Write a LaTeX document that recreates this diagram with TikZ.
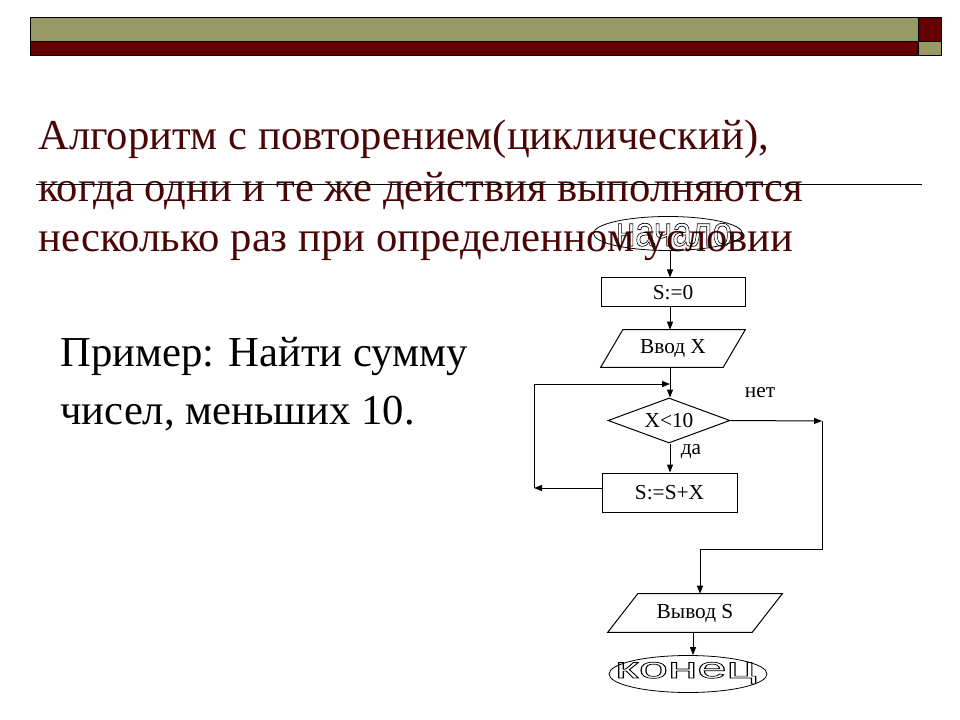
\documentclass[tikz,border=0pt]{standalone}
\usepackage{fontspec}
\usepackage{graphicx}
\setmainfont{Liberation Serif}
\newfontfamily\serifmain{Liberation Serif}
\newfontfamily\sansf{Liberation Sans}
\usetikzlibrary{shapes.geometric,arrows.meta}
\definecolor{barolive}{HTML}{999966}
\definecolor{bardark}{HTML}{660000}
\definecolor{titlered}{HTML}{4A0606}
\newcommand\hollowtext[1]{\special{pdf:literal direct 1 Tr 0.5 w}#1\special{pdf:literal direct 0 Tr}}
\tikzset{
  bar/.style={draw=black, line width=0.6pt},
  titletext/.style={anchor=base west, inner sep=0, text=titlered, font=\serifmain\fontsize{32pt}{38pt}\selectfont},
  bodytext/.style={anchor=base west, inner sep=0, text=black, font=\serifmain\fontsize{32pt}{38pt}\selectfont},
  flow/.style={line width=0.75pt},
  lbl/.style={font=\serifmain\fontsize{16pt}{18pt}\selectfont, inner sep=0},
  box/.style={draw, line width=0.75pt, inner sep=0, font=\serifmain\fontsize{16pt}{18pt}\selectfont},
  terminal/.style={draw, ellipse, line width=0.6pt, inner sep=0},
  arr/.style={flow, -{Triangle[length=6pt,width=4.5pt]}}
}
\begin{document}
\begin{tikzpicture}[x=0.75pt,y=-0.75pt]
\useasboundingbox (0,0) rectangle (960,720);
\fill[white] (0,0) rectangle (960,720);
% top bars
\draw[bar, fill=barolive] (30,17) rectangle (918,41);
\draw[bar, fill=bardark] (30,41) rectangle (918,55);
\draw[bar, fill=bardark] (918,17) rectangle (941,41);
\draw[bar, fill=barolive] (918,41) rectangle (941,55);
% title
\node[titletext] (t1) at (38,150) {Алгоритм с повторением(циклический),};
\node[titletext] (t2) at (38,202) {когда одни и те же действия выполняются};
\node[titletext] (t3) at (38,252) {несколько раз при определенном условии};
\draw[line width=0.6pt] (36,184) -- (922,184);
% example
\node[bodytext] (e1) at (60,366) {Пример: Найти сумму};
\node[bodytext] (e2) at (60,424) {чисел, меньших 10.};
% flowchart
\node[terminal, minimum width=111.75pt, minimum height=25.5pt] (start) at (668,233.5) {};
\node[inner sep=0, anchor=base] (startlbl) at (674,246) {\scalebox{0.83}[1]{\sansf\fontsize{31.7pt}{34pt}\selectfont\hollowtext{начало}}};
\node[box, minimum width=108pt, minimum height=21.75pt] (s0) at (673,292.5) {S:=0};
\node[inner sep=0, minimum width=108pt, minimum height=27.75pt, font=\serifmain\fontsize{16pt}{18pt}\selectfont] (in) at (673,348.5) {Ввод X};
\draw[flow] ([xshift=16.5pt]in.north west) -- (in.north east) -- ([xshift=-16.5pt]in.south east) -- (in.south west) -- cycle;
\node[draw, diamond, aspect=2.7, line width=0.75pt, inner sep=0, minimum width=91.5pt, minimum height=33.75pt, font=\serifmain\fontsize{16pt}{18pt}\selectfont] (cond) at (669,420.5) {X<10};
\node[box, minimum width=101.25pt, minimum height=29.25pt] (body) at (669.5,492.5) {S:=S+X};
\node[inner sep=0, minimum width=130.5pt, minimum height=28.5pt, font=\serifmain\fontsize{16pt}{18pt}\selectfont] (out) at (695,613) {Вывод S};
\draw[flow] ([xshift=22.5pt]out.north west) -- (out.north east) -- ([xshift=-22.5pt]out.south east) -- (out.south west) -- cycle;
\node[terminal, minimum width=118.5pt, minimum height=27.75pt] (stop) at (688,674) {};
\node[inner sep=0, anchor=base] (stoplbl) at (686,678) {\scalebox{1.8}[1]{\sansf\fontsize{22pt}{24pt}\selectfont\hollowtext{конец}}};
% labels
\node[lbl] (no) at (760,393) {нет};
\node[lbl] (yes) at (691,452) {да};
% coordinates
\coordinate (lb) at (534,488);
\coordinate (lt) at (534,384);
\coordinate (merge) at (670,384);
\coordinate (rt) at (822,421);
\coordinate (rb) at (822,549);
\coordinate (ob) at (700,549);
% connectors
\draw[arr] (start.south -| 670,0) -- (670,0 |- s0.north);
\draw[arr] (s0.south -| 670,0) -- (670,0 |- in.north);
\draw[arr] (in.south -| 670,0) -- (cond.north -| 670,0);
\draw[arr] (cond.south -| 670,0) -- (body.north -| 670,0);
\draw[arr] (lb -| body.west) -- (lb);
\draw[arr] (lb) -- (lt) -- (merge);
\draw[arr] (cond.east) -- (rt);
\draw[flow] (rt) -- (rb) -- (ob);
\draw[arr] (ob) -- (ob |- out.north);
\draw[arr] (out.south -| 693,0) -- (stop.north -| 693,0);
\end{tikzpicture}
\end{document}
